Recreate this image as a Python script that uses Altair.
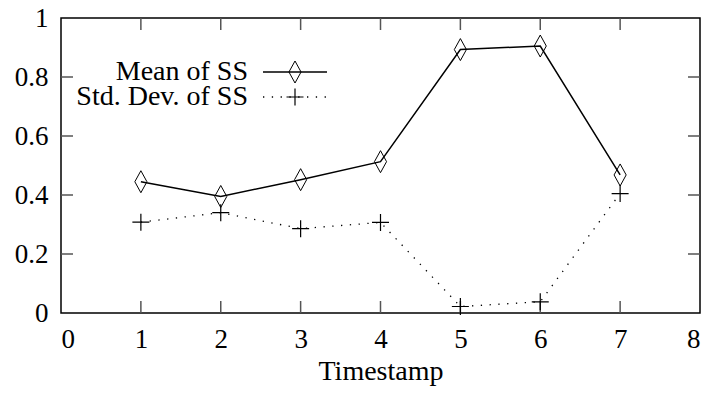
import altair as alt
import pandas as pd

timestamps = [1, 2, 3, 4, 5, 6, 7]
mean_ss = [0.445, 0.395, 0.452, 0.513, 0.893, 0.905, 0.468]
std_ss = [0.308, 0.340, 0.286, 0.307, 0.022, 0.038, 0.405]
x_ticks = [1, 2, 3, 4, 5, 6, 7]
y_ticks = [0.2, 0.4, 0.6, 0.8]
legend_labels = ["Mean of SS", "Std. Dev. of SS"]

FONT = "Liberation Serif"
FS = 27
LFS = 28
W, H = 639, 295

df = pd.DataFrame({"t": timestamps, "mean": mean_ss, "std": std_ss})
xt = pd.DataFrame({"t": x_ticks})
yt = pd.DataFrame({"v": y_ticks})

xscale = alt.Scale(domain=[0, 8], nice=False)
yscale = alt.Scale(domain=[0, 1], nice=False)

xaxis = alt.Axis(values=[0, 1, 2, 3, 4, 5, 6, 7, 8], ticks=False, domain=False,
                 grid=False, labelPadding=13, titlePadding=5, format="d")
yaxis = alt.Axis(values=[0, 0.2, 0.4, 0.6, 0.8, 1], ticks=False, domain=False,
                 grid=False, labelPadding=13, format="~g")


def X(field):
    return alt.X(field, type="quantitative", scale=xscale, title="Timestamp", axis=xaxis)


def Y(field):
    return alt.Y(field, type="quantitative", scale=yscale, title=None, axis=yaxis)


diamond = "M0,-1L0.55,0L0,1L-0.55,0Z"
plus = "M-1,0L1,0M0,-1L0,1"

mean_line = alt.Chart(df).mark_line(color="black", strokeWidth=1.5).encode(x=X("t"), y=Y("mean"))
mean_pts = alt.Chart(df).mark_point(shape=diamond, size=484, filled=False, color="black",
                                    strokeWidth=1, opacity=1).encode(x=X("t"), y=Y("mean"))
std_line = alt.Chart(df).mark_line(color="black", strokeWidth=1.3,
                                   strokeDash=[1.3, 7.5]).encode(x=X("t"), y=Y("std"))
std_pts = alt.Chart(df).mark_point(shape=plus, size=289, filled=False, color="black",
                                   strokeWidth=1.2, opacity=1).encode(x=X("t"), y=Y("std"))

tick_style = dict(color="#555555", strokeWidth=1.5)
tb = alt.Chart(xt).mark_rule(**tick_style).encode(x=X("t"), y=alt.value(H), y2=alt.value(H - 12))
tt = alt.Chart(xt).mark_rule(**tick_style).encode(x=X("t"), y=alt.value(0), y2=alt.value(12))
tl = alt.Chart(yt).mark_rule(**tick_style).encode(y=Y("v"), x=alt.value(0), x2=alt.value(12))
tr = alt.Chart(yt).mark_rule(**tick_style).encode(y=Y("v"), x=alt.value(W), x2=alt.value(W - 12))

# legend
ly = [54, 79]
leg = pd.DataFrame({"label": legend_labels, "row": [0, 1]})
l_text1 = alt.Chart(leg.iloc[[0]]).mark_text(align="right", baseline="middle", font=FONT,
                                            fontSize=LFS, color="black").encode(
    text="label:N", x=alt.value(187), y=alt.value(ly[0]))
l_text2 = alt.Chart(leg.iloc[[1]]).mark_text(align="right", baseline="middle", font=FONT,
                                            fontSize=LFS, color="black").encode(
    text="label:N", x=alt.value(187), y=alt.value(ly[1]))
l_line1 = alt.Chart(leg.iloc[[0]]).mark_rule(color="black", strokeWidth=1.5).encode(
    x=alt.value(202), x2=alt.value(266), y=alt.value(ly[0]))
l_line2 = alt.Chart(leg.iloc[[1]]).mark_rule(color="black", strokeWidth=1.3,
                                             strokeDash=[1.3, 7.5]).encode(
    x=alt.value(202), x2=alt.value(266), y=alt.value(ly[1]))
l_pt1 = alt.Chart(leg.iloc[[0]]).mark_point(shape=diamond, size=484, filled=False, color="black",
                                           strokeWidth=1, opacity=1).encode(
    x=alt.value(234), y=alt.value(ly[0]))
l_pt2 = alt.Chart(leg.iloc[[1]]).mark_point(shape=plus, size=289, filled=False, color="black",
                                           strokeWidth=1.2, opacity=1).encode(
    x=alt.value(234), y=alt.value(ly[1]))

chart = alt.layer(
    mean_line, tb, tt, tl, tr, std_line, std_pts, mean_pts,
    l_line1, l_line2, l_pt1, l_pt2, l_text1, l_text2
).properties(
    width=W, height=H,
    autosize=alt.AutoSizeParams(type="none"),
    padding={"left": 53, "top": 10, "right": 3, "bottom": 75},
    background="white",
).configure_view(
    stroke="black", strokeWidth=1.5
).configure_axis(
    labelFont=FONT, labelFontSize=FS, labelColor="black",
    titleFont=FONT, titleFontSize=28, titleFontWeight="normal", titleColor="black",
)

chart.save("out.html", embed_options={"renderer": "svg", "actions": False})
